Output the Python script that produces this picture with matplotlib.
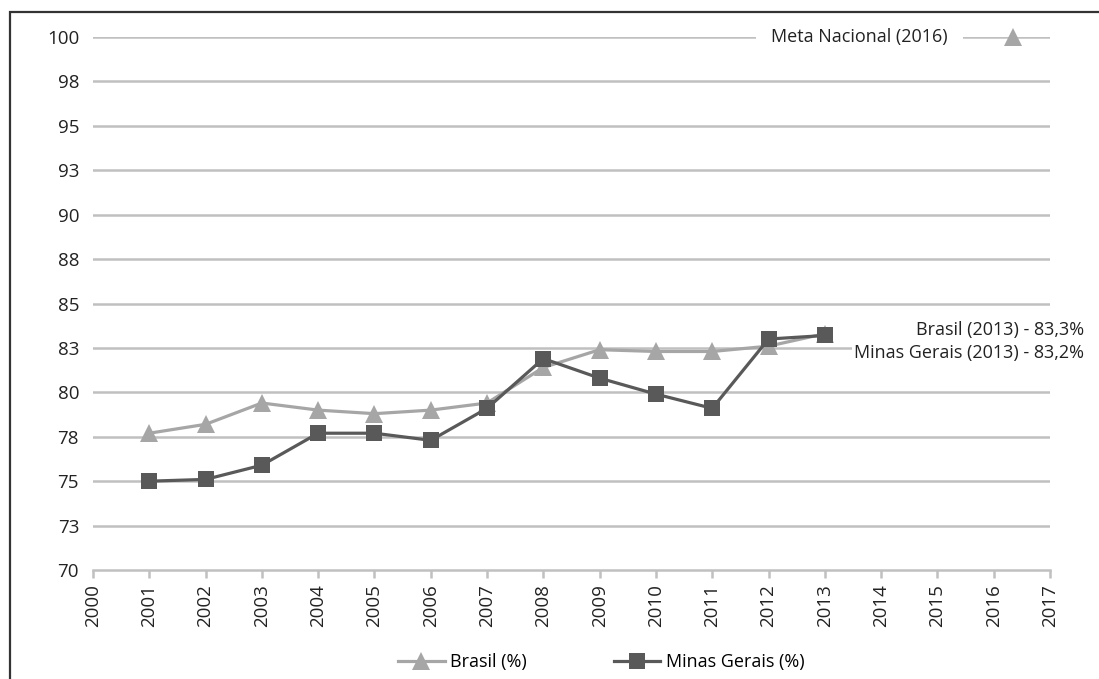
import matplotlib.pyplot as plt
import matplotlib.transforms as mtransforms
from matplotlib.patches import Rectangle

plt.rcParams['font.family'] = ['Open Sans', 'DejaVu Sans']

years = [2001, 2002, 2003, 2004, 2005, 2006, 2007, 2008, 2009, 2010, 2011, 2012, 2013]
brasil = [77.7, 78.2, 79.4, 79.0, 78.8, 79.0, 79.4, 81.4, 82.4, 82.3, 82.3, 82.6, 83.3]
minas = [75.0, 75.1, 75.9, 77.7, 77.7, 77.3, 79.1, 81.9, 80.8, 79.9, 79.1, 83.0, 83.2]

meta_year = 2016
meta_value = 100

yticks = [70, 72.5, 75, 77.5, 80, 82.5, 85, 87.5, 90, 92.5, 95, 97.5, 100]
ytick_labels = ['70', '73', '75', '78', '80', '83', '85', '88', '90', '93', '95', '98', '100']
xticks = list(range(2000, 2018))

LIGHT = '#a6a6a6'
DARK = '#595959'
GRID = '#c0c0c0'


def main():
    fig = plt.figure(figsize=(10.99, 6.79), dpi=100)
    ax = fig.add_axes([0.0846, 0.1605, 0.8708, 0.785])

    # horizontal gridlines
    for y in yticks[1:]:
        ax.axhline(y, color=GRID, lw=1.8, zorder=1)

    ax.plot(years, brasil, color=LIGHT, lw=2.3, marker='^', markersize=13.5,
            markeredgewidth=0, label='Brasil (%)', zorder=3)
    ax.plot(years, minas, color=DARK, lw=2.3, marker='s', markersize=11.5,
            markeredgewidth=0, label='Minas Gerais (%)', zorder=4)

    # national target marker, nudged right of its year
    shift = mtransforms.offset_copy(ax.transData, fig=fig, x=19, y=0, units='dots')
    ax.plot([meta_year], [meta_value], marker='^', color=LIGHT, markersize=13.5,
            markeredgewidth=0, transform=shift, clip_on=False, zorder=3)
    ax.text(2013.62, meta_value, 'Meta Nacional (2016)', ha='center', va='center',
            fontsize=13, color='#222222', zorder=5,
            bbox=dict(facecolor='white', edgecolor='none', pad=11))

    # end-of-series labels
    ax.text(2017.6, 83.5, 'Brasil (2013) - %s%%' % str(brasil[-1]).replace('.', ','),
            ha='right', va='center', fontsize=13, color='#222222', clip_on=False,
            zorder=5, bbox=dict(facecolor='white', edgecolor='none', pad=1))
    ax.text(2017.6, 82.2, 'Minas Gerais (2013) - %s%%' % str(minas[-1]).replace('.', ','),
            ha='right', va='center', fontsize=13, color='#222222', clip_on=False,
            zorder=5, bbox=dict(facecolor='white', edgecolor='none', pad=1))

    ax.set_xlim(2000, 2017)
    ax.set_ylim(70, 100)
    ax.set_yticks(yticks, ytick_labels)
    ax.set_xticks(xticks, [str(x) for x in xticks], rotation=90)

    for side in ['left', 'right', 'top']:
        ax.spines[side].set_visible(False)
    ax.spines['bottom'].set_color(GRID)
    ax.spines['bottom'].set_linewidth(1.8)
    ax.tick_params(axis='y', length=0, pad=10, labelsize=13.5, labelcolor='#222222')
    ax.tick_params(axis='x', length=6, width=1.8, color=GRID, pad=4,
                   labelsize=13.5, labelcolor='#222222')

    fig.legend(loc='lower center', bbox_to_anchor=(0.547, -0.012), ncol=2,
               frameon=False, fontsize=13, columnspacing=4.8, handlelength=2.6,
               handletextpad=0.3)

    # outer frame running off the right and bottom edges
    fig.patches.append(Rectangle((10 / 1099, -0.05), 1.2, (679 - 12) / 679 + 0.05,
                                 transform=fig.transFigure, fill=False,
                                 edgecolor='#333333', lw=1.6))

    fig.savefig('out.png', dpi=100)


if __name__ == '__main__':
    main()
